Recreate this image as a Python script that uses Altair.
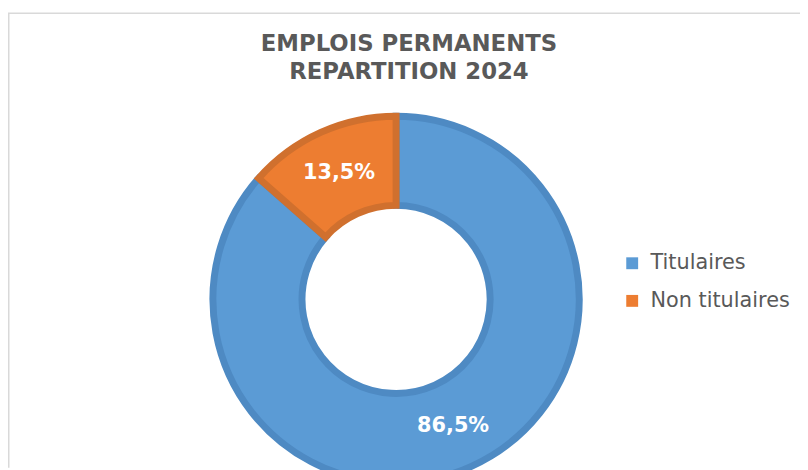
import altair as alt
import pandas as pd

categories = ["Titulaires", "Non titulaires"]
values = [86.5, 13.5]
labels = ["86,5%", "13,5%"]
order_idx = [0, 1]
fill_colors = ["#5B9BD5", "#ED7D31"]
border_colors = ["#4E8AC3", "#D0702E"]
title_lines = ["EMPLOIS PERMANENTS", "REPARTITION 2024"]

df = pd.DataFrame({"cat": categories, "val": values, "label": labels, "ord": order_idx})
one = pd.DataFrame({"k": [0]})

W, H = 800, 462
CX, CY = 392, 292
FONT = "DejaVu Sans"

base = alt.Chart(df).encode(
    theta=alt.Theta("val:Q", stack=True),
    order=alt.Order("ord:Q"),
    x=alt.value(CX),
    y=alt.value(CY),
)

arcs = base.mark_arc(outerRadius=185, innerRadius=95, strokeWidth=7).encode(
    color=alt.Color(
        "cat:N",
        scale=alt.Scale(domain=categories, range=fill_colors),
        sort=categories,
        legend=alt.Legend(
            title=None,
            orient="none",
            legendX=620,
            legendY=245,
            symbolType="square",
            symbolSize=144,
            symbolStrokeWidth=0,
            labelFontSize=21,
            labelFont=FONT,
            labelColor="#595959",
            labelOffset=8,
            rowPadding=16,
        ),
    ),
    stroke=alt.Stroke("cat:N", scale=alt.Scale(domain=categories, range=border_colors), legend=None),
)

texts = base.mark_text(
    radius=140, fontSize=21, fontWeight="bold", color="white", font=FONT, baseline="middle"
).encode(text="label:N")

title = alt.Chart(one).mark_text(
    fontSize=23, fontWeight="bold", color="#595959", font=FONT,
    lineHeight=28, baseline="alphabetic", align="center",
).encode(x=alt.value(405), y=alt.value(41), text=alt.value(title_lines))

frame_top = alt.Chart(one).mark_rule(color="#d9d9d9", strokeWidth=1.5).encode(
    x=alt.value(0), x2=alt.value(W), y=alt.value(3)
)
frame_left = alt.Chart(one).mark_rule(color="#d9d9d9", strokeWidth=1.5).encode(
    x=alt.value(0.75), y=alt.value(3), y2=alt.value(H)
)

chart = alt.layer(frame_top, frame_left, arcs, texts, title).properties(
    width=W, height=H, padding=0, autosize=alt.AutoSizeParams(type="none")
).configure_view(stroke=None)

chart.save("out.html", embed_options={"renderer": "svg", "actions": False})
